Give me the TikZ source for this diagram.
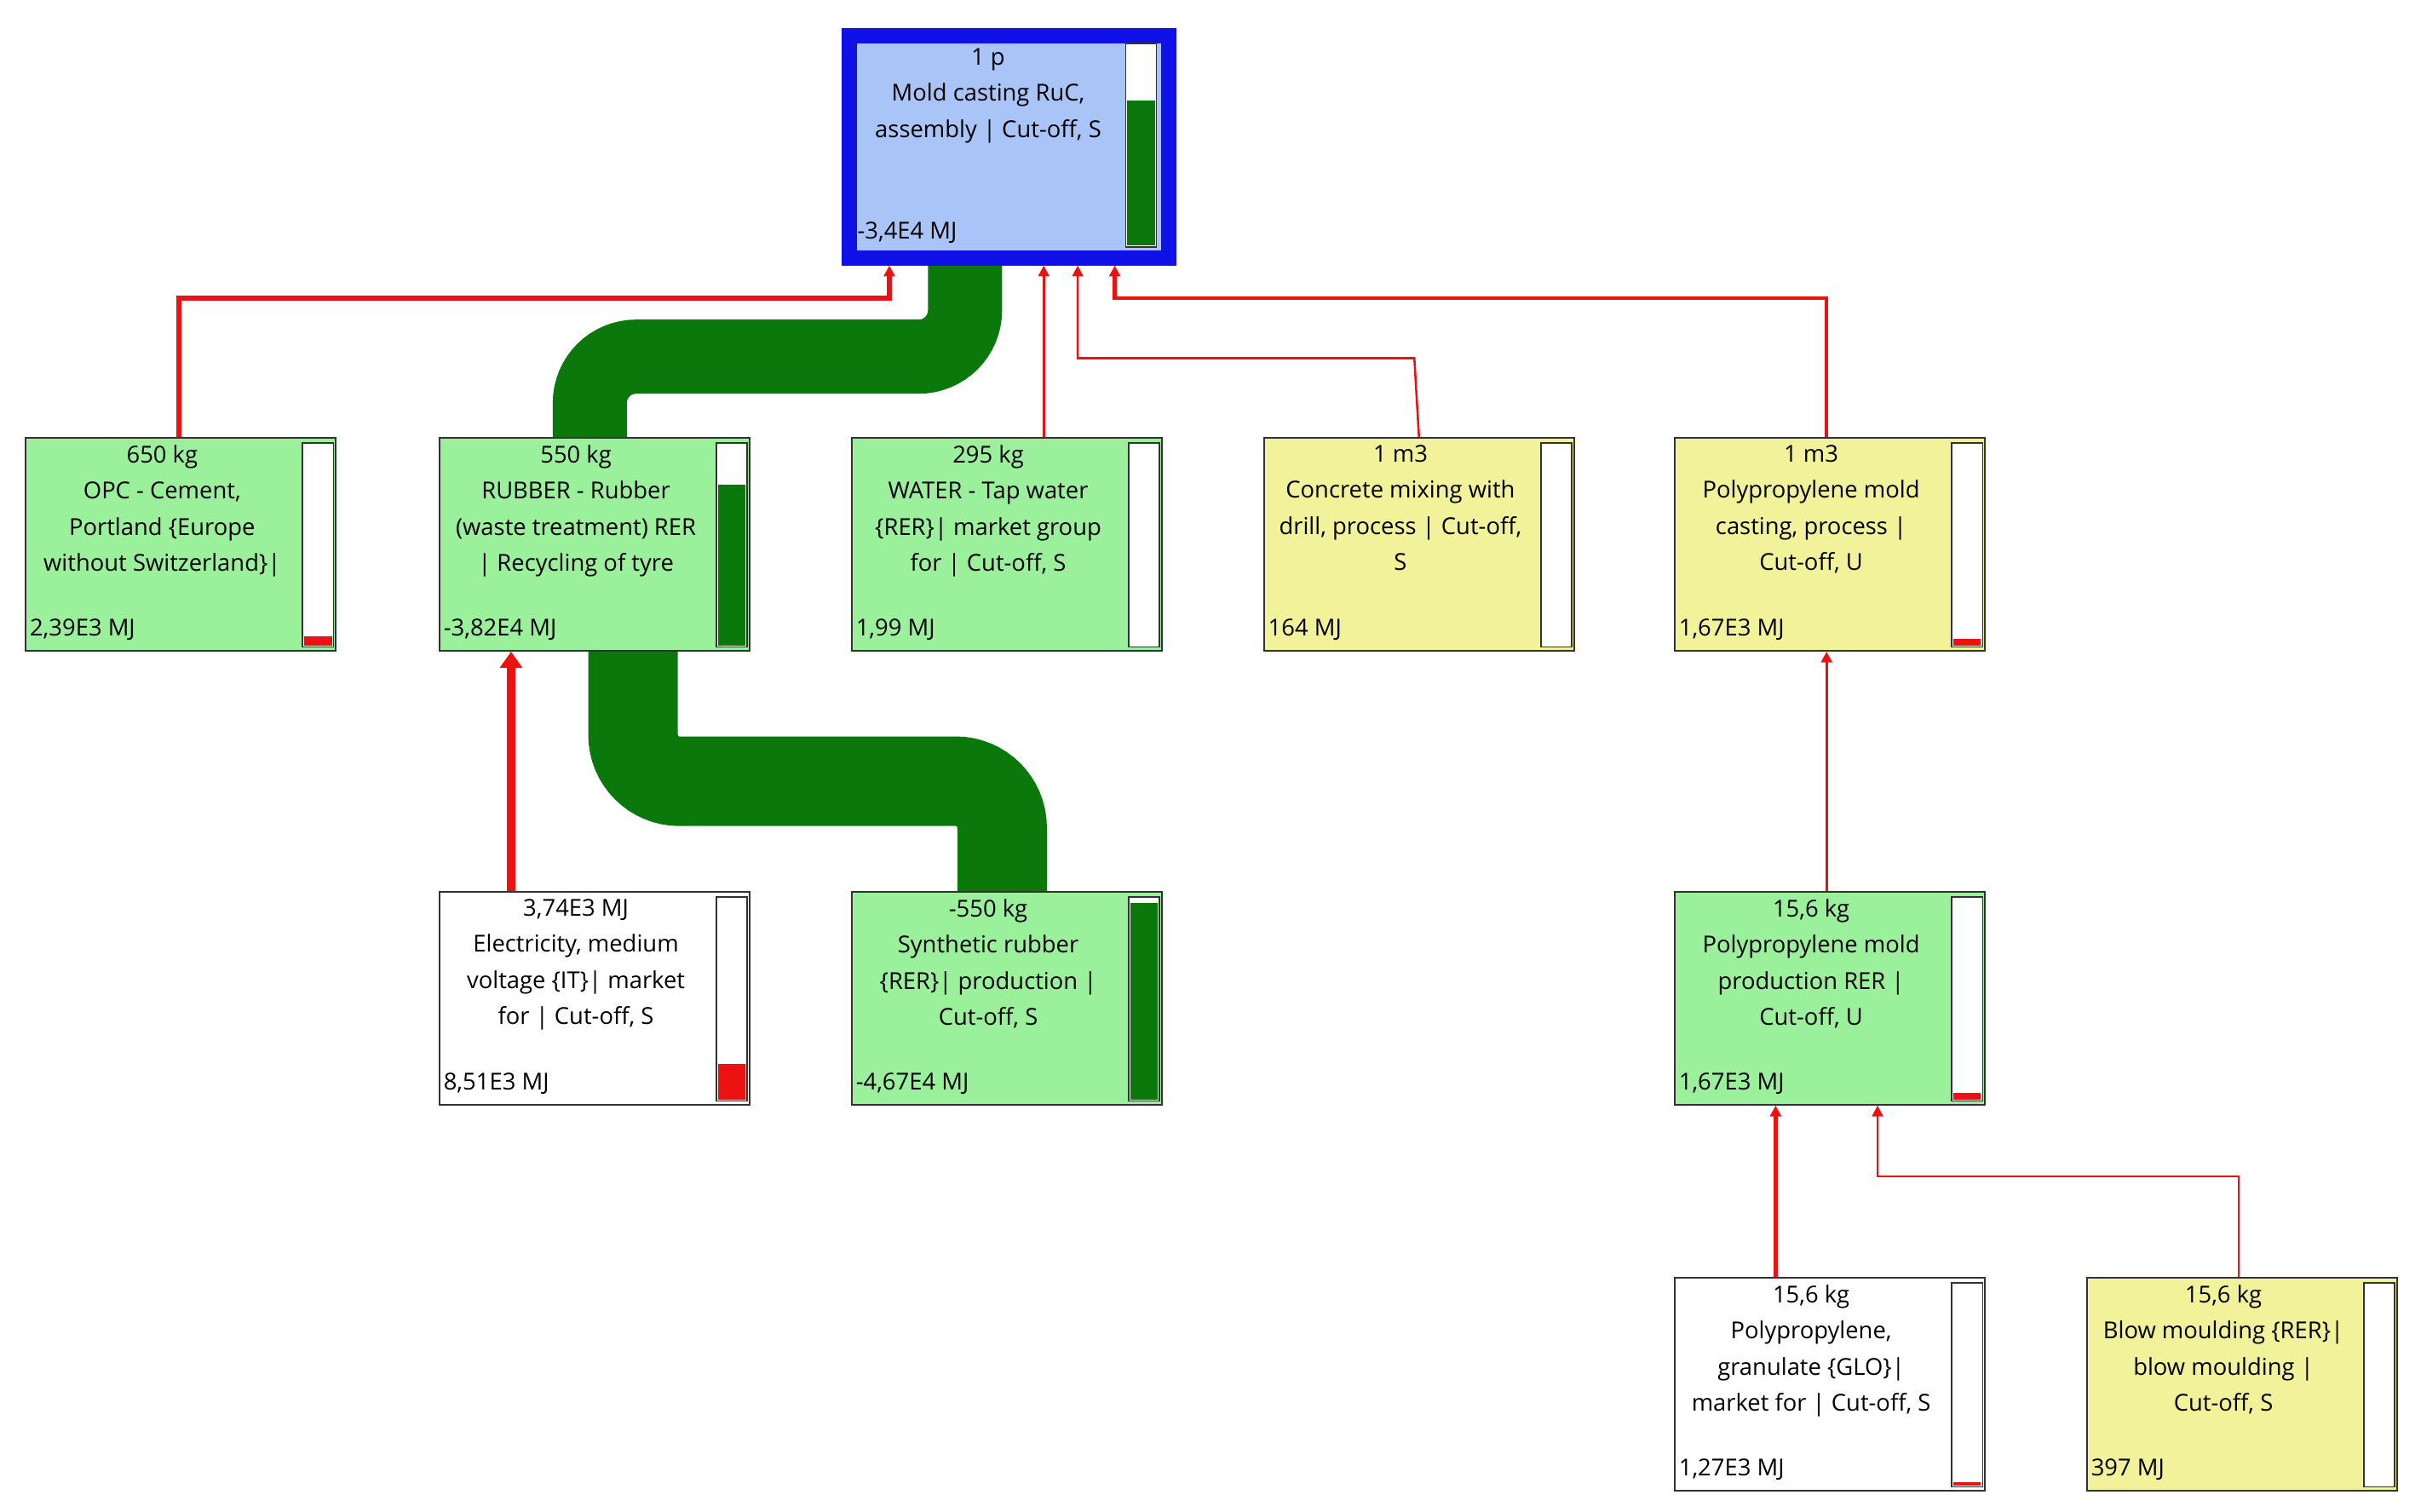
\documentclass[tikz,border=0pt]{standalone}
\usepackage{fontspec}
\setmainfont{Open Sans}
\usetikzlibrary{arrows.meta,calc}
\definecolor{gbox}{HTML}{9BF09B}
\definecolor{ybox}{HTML}{F2F29A}
\definecolor{bbox}{HTML}{A9C5F7}
\definecolor{dblue}{HTML}{1010E8}
\definecolor{dgreen}{HTML}{0A780A}
\definecolor{lred}{HTML}{EE1111}
\tikzset{
 box/.style={draw=black!80,line width=0.6pt,minimum width=4.02cm,minimum height=2.76cm,inner sep=0,anchor=north west},
 txt/.style={font=\fontsize{8.6}{13.3}\selectfont,align=center,inner sep=0,anchor=north},
 val/.style={font=\fontsize{8.6}{10}\selectfont,inner sep=0,anchor=south west},
 rl/.style={draw=lred,line width=#1,-{Triangle[length=4pt,width=4pt]}},
 band/.style={draw=dgreen,line width=#1,rounded corners=0.6cm}
}
\newcommand\pbox[8]{%
 \node[box,fill=#4] (#1) at (#2,#3) {};
 \draw[fill=white,draw=black!80,line width=0.5pt] ([xshift=-0.04cm,yshift=-0.08cm]#1.north east) rectangle ([xshift=-0.44cm,yshift=0.06cm]#1.south east);
 \fill[#8] ([xshift=-0.06cm,yshift=0.08cm]#1.south east) rectangle ([xshift=-0.42cm,yshift=#7cm]#1.south east);
 \node[txt] at ([xshift=-0.24cm,yshift=-0.1cm]#1.north) {#5};
 \node[val] at ([xshift=0.06cm,yshift=0.14cm]#1.south west) {#6};
}
\begin{document}
\begin{tikzpicture}[x=0.02cm,y=-0.02cm]
\useasboundingbox (0,0) rectangle (1568,979);
% bands
\draw[band=0.96cm] (382,290) -- (382,231) -- (625,231) -- (625,160);
\draw[band=1.16cm] (649,580) -- (649,506) -- (410,506) -- (410,415);
% top box
\node[draw=dblue,line width=0.2cm,fill=bbox,minimum width=4.14cm,minimum height=2.88cm,inner sep=0,anchor=north west] (top) at (545,18) {};
\draw[fill=white,draw=black!80,line width=0.5pt] (729,28) rectangle (749,160);
\fill[dgreen] (730,65) rectangle (748,159);
\node[txt] at (640,31) {1 p\\Mold casting RuC,\\assembly | Cut-off, S};
\node[val] at (555,158) {-3,4E4 MJ};
% boxes
\pbox{opc}{16}{283}{gbox}{650 kg\\OPC - Cement,\\Portland \{Europe\\without Switzerland\}|}{2,39E3 MJ}{0.2}{lred}
\pbox{rub}{284}{283}{gbox}{550 kg\\RUBBER - Rubber\\(waste treatment) RER\\| Recycling of tyre}{-3,82E4 MJ}{2.16}{dgreen}
\pbox{wat}{551}{283}{gbox}{295 kg\\WATER - Tap water\\\{RER\}| market group\\for | Cut-off, S}{1,99 MJ}{0.08}{white}
\pbox{con}{818}{283}{ybox}{1 m3\\Concrete mixing with\\drill, process | Cut-off,\\S}{164 MJ}{0.08}{white}
\pbox{ppc}{1084}{283}{ybox}{1 m3\\Polypropylene mold\\casting, process |\\Cut-off, U}{1,67E3 MJ}{0.16}{lred}
\pbox{ele}{284}{577}{white}{3,74E3 MJ\\Electricity, medium\\voltage \{IT\}| market\\for | Cut-off, S}{8,51E3 MJ}{0.54}{lred}
\pbox{syn}{551}{577}{gbox}{-550 kg\\Synthetic rubber\\\{RER\}| production |\\Cut-off, S}{-4,67E4 MJ}{2.62}{dgreen}
\pbox{ppp}{1084}{577}{gbox}{15,6 kg\\Polypropylene mold\\production RER |\\Cut-off, U}{1,67E3 MJ}{0.16}{lred}
\pbox{ppg}{1084}{827}{white}{15,6 kg\\Polypropylene,\\granulate \{GLO\}|\\market for | Cut-off, S}{1,27E3 MJ}{0.12}{lred}
\pbox{blw}{1351}{827}{ybox}{15,6 kg\\Blow moulding \{RER\}|\\blow moulding |\\Cut-off, S}{397 MJ}{0.08}{white}
% red connectors
\draw[rl=1.8pt] (opc.north -| 116,0) -- (116,193) -- (576,193) -- (top.south -| 576,0);
\draw[rl=0.8pt] (wat.north -| 676,0) -- (top.south -| 676,0);
\draw[rl=0.8pt] (con.north) -- (916,232) -- (698,232) -- (top.south -| 698,0);
\draw[rl=1.4pt] (ppc.north -| 1183,0) -- (1183,193) -- (722,193) -- (top.south -| 722,0);
\draw[draw=lred,line width=3.4pt,-{Triangle[length=6pt,width=8pt]}] (ele.north -| 331,0) -- (rub.south -| 331,0);
\draw[rl=1pt] (ppp.north -| 1183,0) -- (ppc.south -| 1183,0);
\draw[rl=1.8pt] (ppg.north -| 1150,0) -- (ppp.south -| 1150,0);
\draw[rl=0.8pt] (blw.north -| 1450,0) -- (1450,762) -- (1216,762) -- (ppp.south -| 1216,0);
\end{tikzpicture}
\end{document}
